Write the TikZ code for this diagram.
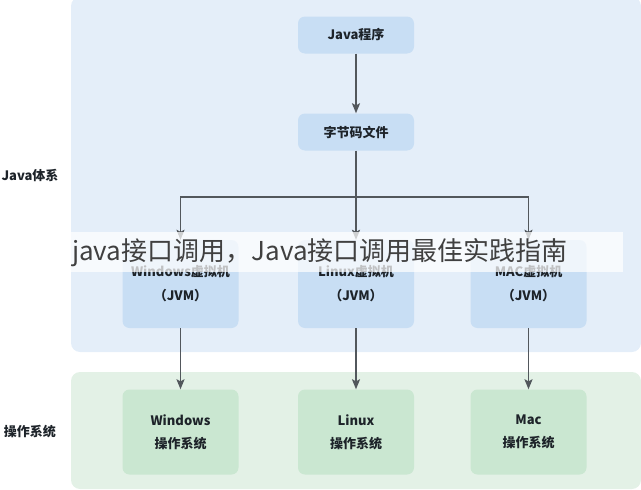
\documentclass[tikz,border=0pt]{standalone}
\usepackage{fontspec}
\setmainfont{Noto Sans CJK SC}
\usetikzlibrary{arrows.meta,positioning,calc}
\definecolor{javabg}{HTML}{E4EEF9}
\definecolor{javabox}{HTML}{C8DEF4}
\definecolor{osbg}{HTML}{E3F1E6}
\definecolor{osbox}{HTML}{CAE7D1}
\definecolor{arrowgray}{HTML}{52575C}
\definecolor{textdark}{HTML}{1D2329}

\begin{document}
\begin{tikzpicture}
[x=1pt,y=-1pt,
panel/.style={rounded corners=9pt},
box/.style={rounded corners=7pt,minimum width=116pt,align=center,text=textdark,
  font=\bfseries\fontsize{13}{24}\selectfont},
sidelabel/.style={text=textdark,font=\bfseries\fontsize{13}{15}\selectfont},
arr/.style={draw=arrowgray,line width=1.5pt,-{Stealth[length=10pt,width=8pt,inset=2pt]}}]
\useasboundingbox (0,0) rectangle (641,490);
\fill[javabg,panel] (71,-3) rectangle (641,352);
\fill[osbg,panel] (71,372) rectangle (641,489);
\node[sidelabel] (sysjava) at (30,175) {Java体系};
\node[sidelabel] (sysos) at (30,432) {操作系统};
\node[box,fill=javabox,minimum height=37pt] (prog) at (356,35) {Java程序};
\node[box,fill=javabox,minimum height=37pt] (code) at (356,132) {字节码文件};
\node[box,fill=javabox,minimum height=88pt] (jvmw) at (180.5,284) {Windows虚拟机\\（JVM）};
\node[box,fill=javabox,minimum height=88pt] (jvml) at (356,284) {Linux虚拟机\\（JVM）};
\node[box,fill=javabox,minimum height=88pt] (jvmm) at (528.5,284) {MAC虚拟机\\（JVM）};
\node[box,fill=osbox,minimum height=85pt,font=\bfseries\fontsize{13}{23}\selectfont] (osw) at (180.5,432) {Windows\\操作系统};
\node[box,fill=osbox,minimum height=85pt,font=\bfseries\fontsize{13}{23}\selectfont] (osl) at (356,432) {Linux\\操作系统};
\node[box,fill=osbox,minimum height=85pt,font=\bfseries\fontsize{13}{23}\selectfont] (osm) at (528.5,432) {Mac\\操作系统};
\coordinate (split) at (356,197);
\draw[arr] (prog) -- (code);
\draw[arr] (code) -- (jvml);
\draw[arr] (split) -| (jvmw);
\draw[arr] (split) -| (jvmm);
\draw[arr] (jvmw) -- (osw);
\draw[arr] (jvml) -- (osl);
\draw[arr] (jvmm) -- (osm);
\fill[white,opacity=0.72] (71,232) rectangle (623,272);
\node[anchor=west,inner sep=0pt,text=black!75,font=\fontsize{26}{29}\selectfont] (mark) at (72,253) {java接口调用，Java接口调用最佳实践指南};
\end{tikzpicture}
\end{document}
